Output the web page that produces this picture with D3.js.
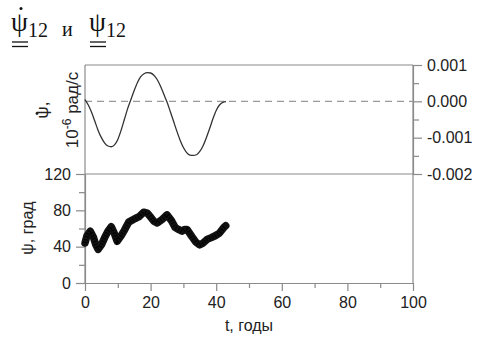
<!DOCTYPE html>
<html><head><meta charset="utf-8">
<script src="https://cdn.jsdelivr.net/npm/d3@7"></script>
<style>
html,body{margin:0;padding:0;background:#fff;}
svg{display:block;}
</style></head>
<body>
<script>
// ---- data ----
const rateT = [0,1,2,3,4,5,6,7,8,9,10,11,12,13,14,15,16,17,18,19,20,21,22,23,24,25,26,27,28,29,30,31,32,33,34,35,36,37,38,39,40,41,42,43];
const rateV = [0.00005,-0.0001,-0.0003,-0.00055,-0.0008,-0.001,-0.00115,-0.00123,-0.00125,-0.0012,-0.00105,-0.0008,-0.0005,-0.0002,0.00005,0.0003,0.00052,0.00068,0.00076,0.00079,0.00078,0.00072,0.0006,0.00042,0.0002,-0.00002,-0.00028,-0.00055,-0.00082,-0.00107,-0.00127,-0.00141,-0.00148,-0.00149,-0.00147,-0.00138,-0.00122,-0.001,-0.00075,-0.00048,-0.00025,-0.0001,-0.00003,-0.00001];
const psiT = [0,0.6,1.6,2.6,3.3,4,5,6,7,8,8.9,9.8,11,12,13.3,15.3,16.5,17.9,19,19.9,21,22,23.5,25,26.3,27.5,28.5,29.6,30.4,31.1,32.6,33.8,34.9,36,37.2,38.5,39.7,41,42.3,42.9];
const psiV = [44,52,57,50,42,37,42,50,57,62,55,46,52,58,67,71,73,78,77,73,68,66,70,75,69,61,59,57,59,59,51,45,42,44,48,50,52,55,61,63];
const xTicks = [0,20,40,60,80,100];
const xMinor = [10,30,50,70,90];
const psiTicks = [0,40,80,120];
const psiMinor = [20,60,100];
const rateTicks = [0.001,0,-0.001,-0.002];
const rateMinor = [0.0005,-0.0005,-0.0015];

const W=481,H=337;
const svg=d3.select("body").append("svg").attr("width",W).attr("height",H);
const L=85,R=413,T=65,M=174,B=283;
const x=d3.scaleLinear().domain([0,100]).range([L,R]);
const yTop=d3.scaleLinear().domain([-0.002,0.001]).range([M,T]);
const yBot=d3.scaleLinear().domain([0,120]).range([B,M]);
const axisCol="#8a8a8a", txtCol="#222";
const font="'Liberation Sans', Arial, sans-serif";

function style(g){
  g.selectAll(".domain").attr("stroke",axisCol).attr("stroke-width",1.2);
  g.selectAll(".tick line").attr("stroke",axisCol).attr("stroke-width",1.2);
  g.selectAll(".tick text").attr("fill",txtCol).style("font-family",font).style("font-size","16px");
}
// bottom x axis
const gx=svg.append("g").attr("transform",`translate(0,${B})`)
  .call(d3.axisBottom(x).tickValues(xTicks).tickSize(8).tickPadding(6).tickSizeOuter(0));
style(gx);
svg.append("g").attr("transform",`translate(0,${B})`)
  .call(d3.axisBottom(x).tickValues(xMinor).tickSize(5).tickFormat("").tickSizeOuter(0))
  .call(g=>{g.select(".domain").remove();style(g);});
// left axis bottom panel
const gl=svg.append("g").attr("transform",`translate(${L},0)`)
  .call(d3.axisLeft(yBot).tickValues(psiTicks).tickSize(9).tickPadding(5).tickSizeOuter(0));
style(gl);
svg.append("g").attr("transform",`translate(${L},0)`)
  .call(d3.axisLeft(yBot).tickValues(psiMinor).tickSize(6).tickFormat("").tickSizeOuter(0))
  .call(g=>{g.select(".domain").remove();style(g);});
// right axis top panel
const gr=svg.append("g").attr("transform",`translate(${R},0)`)
  .call(d3.axisRight(yTop).tickValues(rateTicks).tickSize(9).tickPadding(5).tickSizeOuter(0).tickFormat(d=>d.toFixed(3)));
style(gr);
svg.append("g").attr("transform",`translate(${R},0)`)
  .call(d3.axisRight(yTop).tickValues(rateMinor).tickSize(6).tickFormat("").tickSizeOuter(0))
  .call(g=>{g.select(".domain").remove();style(g);});
// frame lines
const frame=[[L,T,R,T],[L,M,R,M],[L,T,L,B],[R,T,R,B]];
svg.selectAll("line.frame").data(frame).join("line").attr("class","frame")
  .attr("x1",d=>d[0]).attr("y1",d=>d[1]).attr("x2",d=>d[2]).attr("y2",d=>d[3])
  .attr("stroke",axisCol).attr("stroke-width",1.2);
// zero dashed line
svg.append("line").attr("x1",x(0)).attr("x2",x(100)).attr("y1",yTop(0)).attr("y2",yTop(0))
  .attr("stroke","#999").attr("stroke-width",1.2).attr("stroke-dasharray","7,5");
// rate curve
svg.append("path").datum(rateT.map((t,i)=>[t,rateV[i]]))
  .attr("d",d3.line().x(d=>x(d[0])).y(d=>yTop(d[1])).curve(d3.curveMonotoneX))
  .attr("fill","none").attr("stroke","#333").attr("stroke-width",1.3);
// psi band
const psiLine=d3.line().x(d=>x(d[0])).y(d=>yBot(d[1])).curve(d3.curveLinear);
const psiData=psiT.map((t,i)=>[t,psiV[i]]);
svg.append("path").datum(psiData).attr("d",psiLine)
  .attr("fill","none").attr("stroke","#111").attr("stroke-width",7.5).attr("stroke-linejoin","round").attr("stroke-linecap","round");
svg.append("path").datum(psiData).attr("d",psiLine)
  .attr("fill","none").attr("stroke","#000").attr("stroke-width",4).attr("stroke-dasharray","1,2");
// axis titles
svg.append("text").attr("x",(L+R)/2).attr("y",331).attr("text-anchor","middle")
  .style("font-family",font).style("font-size","16px").attr("fill",txtCol).text("t, годы");
svg.append("text").attr("transform","translate(33,228) rotate(-90)").attr("text-anchor","middle")
  .style("font-family",font).style("font-size","16px").attr("fill",txtCol).text("ψ, град");
svg.append("text").attr("transform","translate(48,110) rotate(-90)").attr("text-anchor","middle")
  .style("font-family",font).style("font-size","17px").attr("fill",txtCol).text("ψ,");
svg.append("circle").attr("cx",37).attr("cy",113.5).attr("r",1.4).attr("fill",txtCol);
const t2=svg.append("text").attr("transform","translate(78,110) rotate(-90)").attr("text-anchor","middle")
  .style("font-family",font).style("font-size","17px").attr("fill",txtCol);
t2.append("tspan").text("10");
t2.append("tspan").attr("dy",-7).style("font-size","12px").text("-6");
t2.append("tspan").attr("dy",7).text(" рад/с");
// title
const serif="'Liberation Serif','Times New Roman',serif";
const title=svg.append("text").attr("x",11).style("font-family",serif).attr("fill","#111");
title.append("tspan").attr("y",31).style("font-size","27px").text("ψ");
title.append("tspan").attr("y",37).style("font-size","20px").text("12");
title.append("tspan").attr("x",62).attr("y",36).style("font-size","20px").text("и");
title.append("tspan").attr("x",89).attr("y",31).style("font-size","27px").text("ψ");
title.append("tspan").attr("y",37).style("font-size","20px").text("12");
svg.append("circle").attr("cx",21).attr("cy",8.5).attr("r",1.5).attr("fill","#111");
const ul=[[12,28,42],[12,28,46.5],[90,106,42],[90,106,46.5]];
svg.selectAll("line.ul").data(ul).join("line").attr("class","ul")
  .attr("x1",d=>d[0]).attr("x2",d=>d[1]).attr("y1",d=>d[2]).attr("y2",d=>d[2])
  .attr("stroke","#111").attr("stroke-width",1.3);
</script>
</body></html>
